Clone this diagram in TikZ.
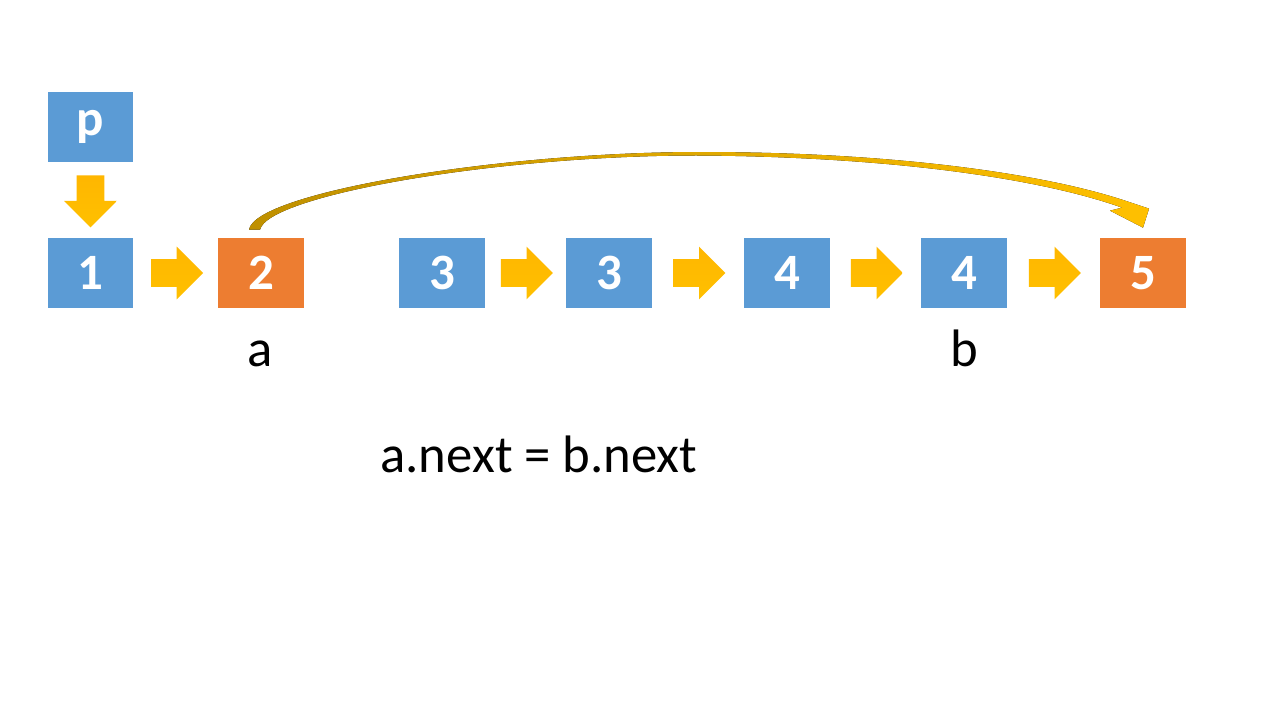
\documentclass[tikz,border=0pt]{standalone}
\usepackage{fontspec}
\setmainfont{Carlito}
\usetikzlibrary{positioning,calc,shapes.arrows}
\definecolor{boxblue}{HTML}{5B9BD5}
\definecolor{boxorange}{HTML}{ED7D31}
\definecolor{arrowgold}{HTML}{FFC000}
\definecolor{darkgold}{HTML}{BF9000}
\begin{document}
\begin{tikzpicture}[x=0.02cm,y=-0.02cm,
    cell/.style={fill=boxblue,text=white,minimum width=1.72cm,minimum height=1.4cm,
        inner sep=0pt,font=\fontsize{29}{34}\selectfont\bfseries},
    hit/.style={cell,fill=boxorange},
    blk/.style={single arrow,inner sep=0.27cm,minimum height=1.04cm,anchor=tail,
        single arrow head extend=0.25cm,top color=arrowgold!85!orange,bottom color=arrowgold},
    lbl/.style={anchor=base,font=\fontsize{30}{36}\selectfont}]
\useasboundingbox (0,0) rectangle (1280,720);
\node[cell] (p) at (90.5,127) {p};
\node[cell] (n1) at (90.5,273) {1};
\node[hit] (n2) at (261,273) {2};
\node[cell] (n3) at (442,273) {3};
\node[cell] (n4) at (609,273) {3};
\node[cell] (n5) at (787,273) {4};
\node[cell] (n6) at (964,273) {4};
\node[hit] (n7) at (1143,273) {5};
\node[blk,shape border rotate=270] (d) at ($(p.south)!0.5!(n1.north)+(0,-25)$) {};
\node[blk] (e1) at ($(n1.east)!0.5!(n2.west)+(-25,0)$) {};
\node[blk] (e3) at ($(n3.east)!0.5!(n4.west)+(-25,0)$) {};
\node[blk] (e4) at ($(n4.east)!0.5!(n5.west)+(-25,0)$) {};
\node[blk] (e5) at ($(n5.east)!0.5!(n6.west)+(-25,0)$) {};
\node[blk] (e6) at ($(n6.east)!0.5!(n7.west)+(-25,0)$) {};
\node[lbl] (la) at (260,366) {a};
\node[lbl] (lb) at (964,366) {b};
\node[lbl] (eq) at (539,472) {a.next = b.next};
\coordinate (top) at (700,152);
\coordinate (bot) at (700,155.5);
\fill[left color=darkgold,right color=arrowgold]
    ($(n2.north)+(-12,-8)$) .. controls ($(n2.north)+(-6,-45)$) and (500,152) .. (top)
    .. controls (900,152) and (1050,175) .. ($(n7.north)+(-15,-36)$)
    -- ($(n7.north)+(6,-29)$) -- ($(n7.north)+(0,-10)$) -- ($(n7.north)+(-33,-27)$)
    -- ($(n7.north)+(-21,-30)$) .. controls (1045,180) and (900,157) .. (bot)
    .. controls (500,155) and (268,195) .. ($(n2.north)+(-1,-8)$) -- cycle;
\end{tikzpicture}
\end{document}
